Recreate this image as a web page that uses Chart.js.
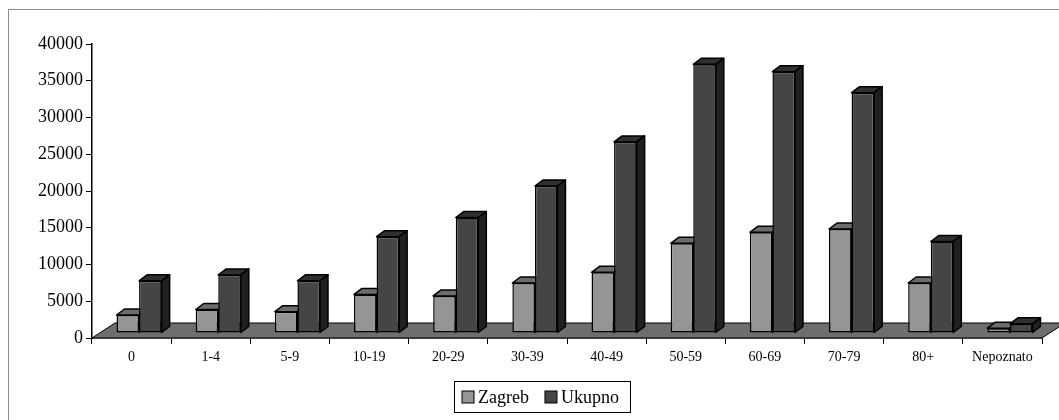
<!DOCTYPE html>
<html>
<head>
<meta charset="utf-8">
<script src="https://cdn.jsdelivr.net/npm/chart.js@4/dist/chart.umd.min.js"></script>
<style>
  html, body { margin: 0; padding: 0; background: #ffffff; }
  canvas { display: block; }
</style>
</head>
<body>
<canvas id="chart" width="1059" height="420"></canvas>
<script>
// Age groups and counts
const categories = ['0', '1-4', '5-9', '10-19', '20-29', '30-39', '40-49', '50-59', '60-69', '70-79', '80+', 'Nepoznato'];
const zagreb = [2450, 3200, 2900, 5250, 5050, 6800, 8250, 12200, 13700, 14150, 6800, 650];
const ukupno = [7100, 7900, 7100, 13100, 15700, 20000, 26000, 36550, 35550, 32700, 12450, 1250];
const seriesNames = ['Zagreb', 'Ukupno'];
const yMin = 0, yMax = 40000, yStep = 5000;

// Pseudo-3D look: floor slab and extruded columns
const look = {
  font: 'Liberation Serif, Times New Roman, serif',
  floorDx: 23, floorDy: -15, floorFill: '#6e6e6e',
  shiftX: 7.5, shiftY: -5,     // columns stand a third of the way into the floor
  dx: 8, dy: -6                // column depth
};

function drawFaces(chart, index) {
  const c = chart.ctx;
  const ds = chart.data.datasets[index];
  const meta = chart.getDatasetMeta(index);
  c.save();
  c.lineWidth = 1.5;
  c.strokeStyle = '#000';
  c.lineJoin = 'round';
  meta.data.forEach(bar => {
    const p = bar.getProps(['x', 'y', 'base', 'width'], true);
    const l = p.x - p.width / 2, r = p.x + p.width / 2;
    const t = Math.min(p.y, p.base), b = Math.max(p.y, p.base);
    // top face
    c.beginPath();
    c.moveTo(l, t);
    c.lineTo(l + look.dx, t + look.dy);
    c.lineTo(r + look.dx, t + look.dy);
    c.lineTo(r, t);
    c.closePath();
    c.fillStyle = ds.topColor;
    c.fill();
    c.stroke();
    // side face
    c.beginPath();
    c.moveTo(r, t);
    c.lineTo(r + look.dx, t + look.dy);
    c.lineTo(r + look.dx, b + look.dy);
    c.lineTo(r, b);
    c.closePath();
    c.fillStyle = ds.sideColor;
    c.fill();
    c.stroke();
  });
  c.restore();
}

const threeD = {
  id: 'threeD',
  beforeDraw(chart) {
    const c = chart.ctx;
    c.save();
    c.strokeStyle = '#8c8c8c';
    c.lineWidth = 1;
    c.beginPath();
    c.moveTo(8.5, chart.height);
    c.lineTo(8.5, 9.5);
    c.lineTo(chart.width, 9.5);
    c.stroke();
    c.restore();
  },
  beforeDatasetsDraw(chart) {
    const c = chart.ctx, a = chart.chartArea;
    const y0 = chart.scales.y.getPixelForValue(0);
    c.save();
    c.beginPath();
    c.moveTo(a.left, y0);
    c.lineTo(a.right, y0);
    c.lineTo(a.right + look.floorDx, y0 + look.floorDy);
    c.lineTo(a.left + look.floorDx, y0 + look.floorDy);
    c.closePath();
    c.fillStyle = look.floorFill;
    c.fill();
    c.strokeStyle = '#000';
    c.lineWidth = 1;
    c.stroke();
    c.restore();
  },
  // columns are painted below, series by series, left column first
  beforeDatasetDraw() { return false; },
  afterDatasetsDraw(chart) {
    const c = chart.ctx;
    c.save();
    c.translate(look.shiftX, look.shiftY);
    chart.data.datasets.forEach((ds, i) => {
      chart.getDatasetMeta(i).controller.draw();
      drawFaces(chart, i);
    });
    c.restore();
  },
  afterDraw(chart) {
    // framed legend under the plot
    const c = chart.ctx;
    const box = { x: 454.5, y: 381.5, w: 176, h: 31 };
    c.save();
    c.strokeStyle = '#000';
    c.lineWidth = 1;
    c.strokeRect(box.x, box.y, box.w, box.h);
    c.font = '18px ' + look.font;
    c.textBaseline = 'middle';
    let x = box.x + 7.5;
    const cy = box.y + box.h / 2;
    chart.data.datasets.forEach(ds => {
      c.fillStyle = ds.backgroundColor;
      c.fillRect(x, cy - 6, 12, 12);
      c.strokeStyle = '#000';
      c.strokeRect(x, cy - 6, 12, 12);
      c.fillStyle = '#000';
      c.fillText(ds.label, x + 16, cy + 1);
      x += 16 + c.measureText(ds.label).width + 16;
    });
    c.restore();
  }
};

new Chart(document.getElementById('chart'), {
  type: 'bar',
  data: {
    labels: categories,
    datasets: [
      { label: seriesNames[0], data: zagreb, backgroundColor: '#959595', topColor: '#6c6c6c', sideColor: '#5c5c5c' },
      { label: seriesNames[1], data: ukupno, backgroundColor: '#454545', topColor: '#303030', sideColor: '#202020' }
    ]
  },
  options: {
    responsive: false,
    animation: false,
    events: [],
    layout: { padding: { top: 44, right: 17, left: 0, bottom: 0 } },
    datasets: {
      bar: { categoryPercentage: 0.57, barPercentage: 1, borderColor: '#000', borderWidth: 1.5, borderSkipped: false }
    },
    plugins: { legend: { display: false }, tooltip: { enabled: false } },
    scales: {
      x: {
        z: 1,
        grid: { display: true, drawOnChartArea: false, drawTicks: true, tickLength: 6, color: '#000', lineWidth: 1, offset: true },
        border: { display: true, color: '#000', width: 1.5 },
        ticks: { color: '#000', font: { family: look.font, size: 14 }, padding: 5, maxRotation: 0, autoSkip: false },
        afterFit(s) { s.height = 82; }
      },
      y: {
        min: yMin, max: yMax,
        grid: { display: true, drawOnChartArea: false, drawTicks: true, tickLength: 6, color: '#000', lineWidth: 1 },
        border: { display: true, color: '#000', width: 1.5 },
        ticks: { stepSize: yStep, color: '#000', font: { family: look.font, size: 18 }, padding: 3, callback: v => String(v) },
        afterFit(s) { s.width = 92; }
      }
    }
  },
  plugins: [threeD]
});
</script>
</body>
</html>
